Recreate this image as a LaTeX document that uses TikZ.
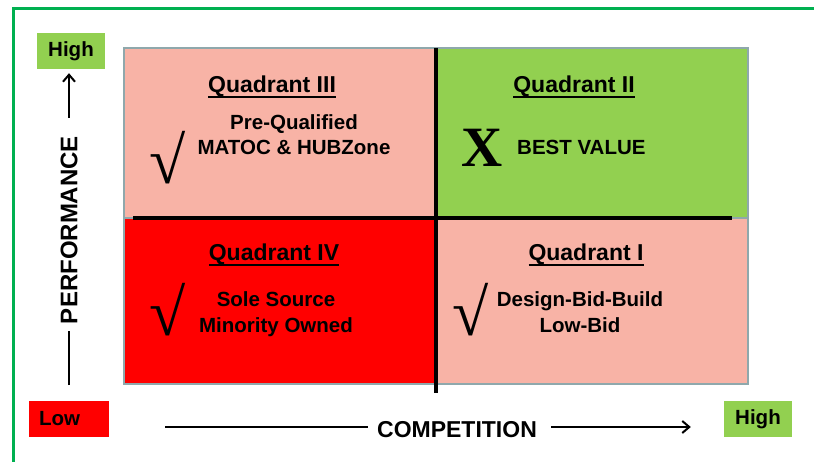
\documentclass[tikz,border=0pt]{standalone}
\usepackage{fontspec}
\setmainfont{Liberation Sans}
\newfontfamily\serifglyph{Liberation Serif}
\usetikzlibrary{positioning,arrows.meta}
\definecolor{salmon}{HTML}{F8B3A6}
\definecolor{leaf}{HTML}{92D050}
\definecolor{hotred}{HTML}{FF0000}
\definecolor{framegreen}{HTML}{00B050}
\definecolor{rim}{HTML}{8FA8AC}
\newcommand{\ulword}[1]{\setbox0\hbox{#1}\rlap{\rule[-4.6pt]{\wd0}{1.8pt}}\box0}
\tikzset{
quad/.style={draw=rim, line width=2.5pt, minimum width=312pt, outer sep=0pt, inner sep=0pt},
title/.style={font=\fontsize{23}{27}\selectfont\bfseries, anchor=base, inner sep=0pt},
entry/.style={font=\fontsize{20.5}{25}\selectfont\bfseries, align=center, anchor=base, inner sep=0pt},
tick/.style={font=\serifglyph\fontsize{66}{66}\selectfont\bfseries, inner sep=0pt},
tag/.style={font=\fontsize{20.5}{24}\selectfont\bfseries, minimum height=36pt, inner sep=0pt},
divider/.style={line width=4pt, black},
axis/.style={line width=2pt, black},
>={Straight Barb[length=7pt,width=12pt]},
}
\begin{document}
\begin{tikzpicture}[x=1pt,y=-1pt]
    \useasboundingbox (0,0) rectangle (814,462);
    \draw[framegreen, line width=3pt] (13,462) -- (13,9) -- (814,9);
    % the four quadrants
    \node[quad, fill=salmon, minimum height=170pt, anchor=north west] (q3) at (124,48) {};
    \node[quad, fill=leaf, minimum height=170pt, right=0pt of q3] (q2) {};
    \node[quad, fill=hotred, minimum height=166pt, below=0pt of q3] (q4) {};
    \node[quad, fill=salmon, minimum height=166pt, right=0pt of q4] (q1) {};
    \draw[divider] ([xshift=9pt]q3.south west) -- ([xshift=-16pt]q2.south east);
    \draw[divider] (q3.north east) -- ([yshift=-9pt]q4.south east);
    % top row
    \node[title] (t3) at (272,93) {\ulword{Quadrant III}};
    \node[entry] (e3) at (294,155) {Pre-Qualified\\MATOC \& HUBZone};
    \node[tick] (v3) at (168,158) {√};
    \node[title] (t2) at (574,93) {\ulword{Quadrant II}};
    \node[font=\serifglyph\fontsize{57}{57}\selectfont\bfseries, inner sep=0pt] (x2) at (482,148) {X};
    \node[entry, anchor=base west] (e2) at (517,155) {BEST VALUE};
    % bottom row
    \node[title] (t4) at (274,261) {\ulword{Quadrant IV}};
    \node[entry, font=\fontsize{20.5}{26}\selectfont\bfseries] (e4) at (276,333) {Sole Source\\Minority Owned};
    \node[tick] (v4) at (168,310) {√};
    \node[title] (t1) at (586,261) {\ulword{Quadrant I}};
    \node[entry, font=\fontsize{20.5}{26}\selectfont\bfseries] (e1) at (580,333) {Design-Bid-Build\\Low-Bid};
    \node[tick] (v1) at (471,310) {√};
    % performance axis
    \node[tag, fill=leaf, minimum width=68pt] (hiY) at (71,51) {High};
    \node[font=\fontsize{24}{24}\selectfont\bfseries, rotate=90, inner sep=0pt] (perf) at (69,230) {PERFORMANCE};
    \coordinate (perfEnd) at (69,385);
    \draw[axis, ->, shorten <=18pt, shorten >=4pt] (perf.east) -- (perf.east |- hiY.south);
    \draw[axis, shorten >=7pt] (perfEnd) -- (perf.west);
    \node[tag, fill=hotred, minimum width=80pt, text width=60pt, align=left] (lo) at (69,419) {Low};
    % competition axis
    \node[tag, fill=leaf, minimum width=68pt] (hiX) at (758,419) {High};
    \node[font=\fontsize{23}{23}\selectfont\bfseries, anchor=base, inner sep=0pt] (comp) at (457,437) {COMPETITION};
    \coordinate (compStart) at (165,427);
    \draw[axis, shorten >=9pt] (compStart) -- (compStart -| comp.west);
    \draw[axis, ->, shorten <=14pt, shorten >=33pt] (compStart -| comp.east) -- (compStart -| hiX.west);
\end{tikzpicture}
\end{document}
